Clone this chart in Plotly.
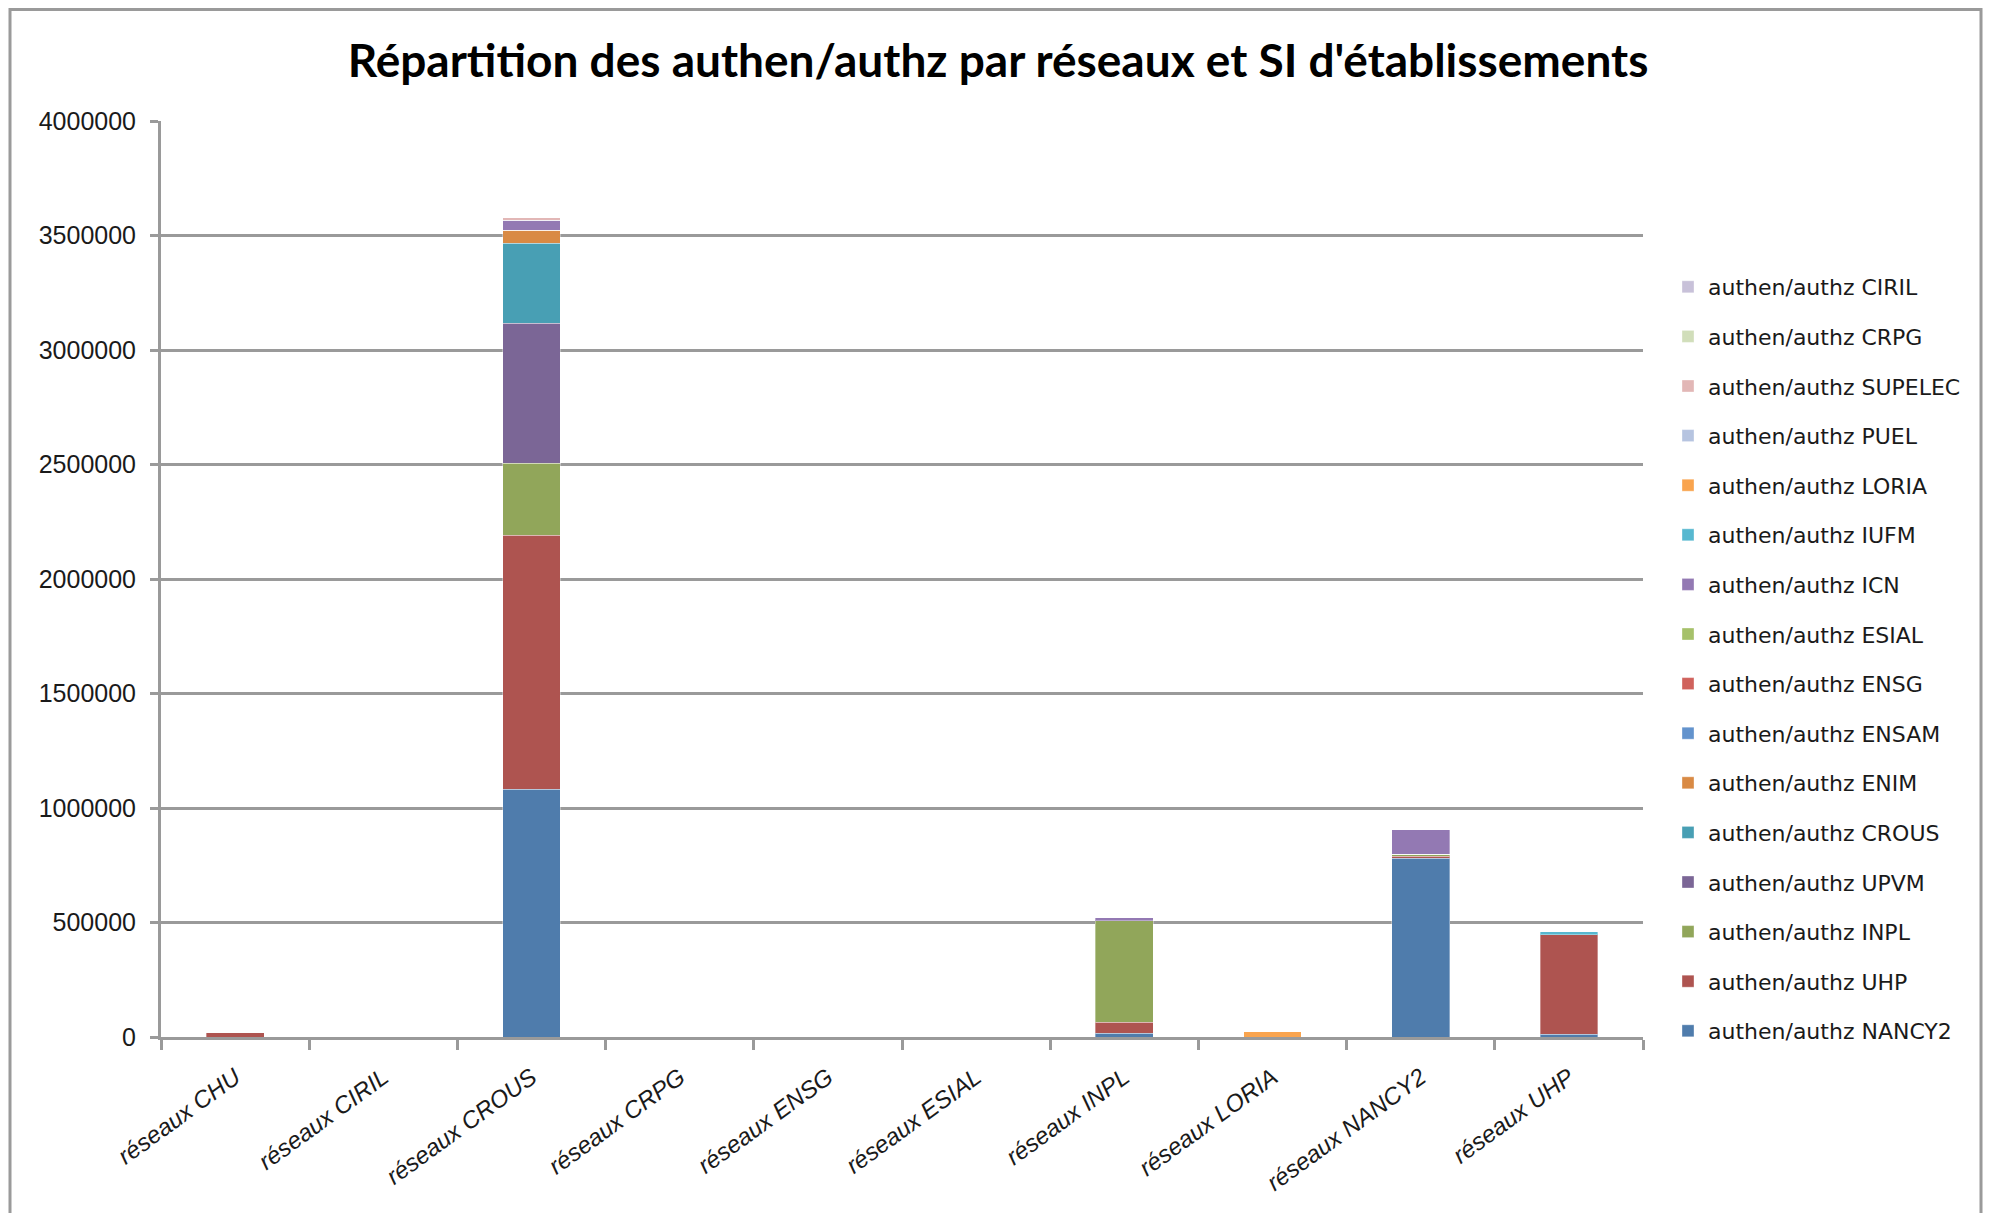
import plotly.graph_objects as go

# categories (x axis)
reseaux = ['réseaux CHU', 'réseaux CIRIL', 'réseaux CROUS', 'réseaux CRPG', 'réseaux ENSG',
           'réseaux ESIAL', 'réseaux INPL', 'réseaux LORIA', 'réseaux NANCY2', 'réseaux UHP']

# series values, one list per SI (stack order bottom -> top)
nancy2 = [0, 0, 1082000, 0, 0, 0, 17000, 0, 781000, 11000]
uhp = [20000, 0, 1108000, 0, 0, 0, 48000, 0, 8000, 436000]
inpl = [0, 0, 315000, 0, 0, 0, 443000, 0, 8000, 0]
upvm = [0, 0, 612000, 0, 0, 0, 0, 0, 0, 0]
crous = [0, 0, 350000, 0, 0, 0, 0, 0, 0, 0]
enim = [0, 0, 57000, 0, 0, 0, 0, 0, 0, 0]
ensam = [0, 0, 0, 0, 0, 0, 0, 0, 0, 0]
ensg = [0, 0, 0, 0, 0, 0, 0, 0, 0, 0]
esial = [0, 0, 0, 0, 0, 0, 0, 0, 0, 0]
icn = [0, 0, 42000, 0, 0, 0, 13000, 0, 109000, 0]
iufm = [0, 0, 0, 0, 0, 0, 0, 0, 0, 12000]
loria = [0, 0, 0, 0, 0, 0, 0, 22000, 0, 0]
puel = [0, 0, 0, 0, 0, 0, 0, 0, 0, 0]
supelec = [0, 0, 12000, 0, 0, 0, 0, 0, 0, 0]
crpg = [0, 0, 0, 0, 0, 0, 0, 0, 0, 0]
ciril = [0, 0, 0, 0, 0, 0, 0, 0, 0, 0]

y_ticks = [0, 500000, 1000000, 1500000, 2000000, 2500000, 3000000, 3500000, 4000000]

series = [
    ('authen/authz NANCY2', nancy2, '#4F7CAC'),
    ('authen/authz UHP', uhp, '#AE5450'),
    ('authen/authz INPL', inpl, '#91A65A'),
    ('authen/authz UPVM', upvm, '#7B6696'),
    ('authen/authz CROUS', crous, '#489FB4'),
    ('authen/authz ENIM', enim, '#D98A44'),
    ('authen/authz ENSAM', ensam, '#6393CD'),
    ('authen/authz ENSG', ensg, '#D0625C'),
    ('authen/authz ESIAL', esial, '#A6C16A'),
    ('authen/authz ICN', icn, '#9379B3'),
    ('authen/authz IUFM', iufm, '#57B8D0'),
    ('authen/authz LORIA', loria, '#F9A44E'),
    ('authen/authz PUEL', puel, '#B6C4E0'),
    ('authen/authz SUPELEC', supelec, '#E2B7B6'),
    ('authen/authz CRPG', crpg, '#D1DEBA'),
    ('authen/authz CIRIL', ciril, '#C8C1D9'),
]

fig = go.Figure()
for i, (name, vals, col) in enumerate(series):
    fig.add_trace(go.Bar(
        x=reseaux, y=vals, name=name, legendgroup=name, legendrank=100 - i,
        marker=dict(color=col, line=dict(color='rgba(255,255,255,0.35)', width=1)),
    ))

# figure size (page has an 8px body margin, keep it from scrolling) and chart area, in pixels
W, H = 1977, 1205
L, R, T, B = 153, 342, 113, 176
pw, ph = W - L - R, H - T - B

def px_x(x):
    return (x - L) / pw

def px_y(y):
    return (H - B - y) / ph

# open-bottom frame around the chart
xl, xr, yt, yb = px_x(2), px_x(1973), px_y(1.5), px_y(1300)
frame = f'M {xl} {yb} L {xl} {yt} L {xr} {yt} L {xr} {yb}'

fig.update_layout(
    width=W, height=H,
    barmode='stack', bargap=0.61,
    plot_bgcolor='white', paper_bgcolor='white',
    margin=dict(l=L, r=R, t=T, b=B),
    title=dict(text="Répartition des authen/authz par réseaux et SI d'établissements",
               x=px_x(990), xanchor='center', y=1 - 53 / H, yanchor='middle',
               xref='paper',
               font=dict(family='Lato', size=46, color='#000000', weight='bold')),
    legend=dict(x=px_x(1660), y=px_y(258), xanchor='left', yanchor='top',
                traceorder='grouped', tracegroupgap=18,
                font=dict(family='DejaVu Sans', size=22, color='#1a1a1a')),
    xaxis=dict(showline=True, linecolor='#9a9a9a', linewidth=3,
               ticks='outside', tickson='boundaries', ticklen=10, tickwidth=3, tickcolor='#9a9a9a',
               tickangle=-36, ticklabelstandoff=14,
               tickfont=dict(family='Liberation Sans', size=24, color='#1a1a1a', style='italic'),
               showgrid=False),
    yaxis=dict(range=[0, 4000000], tickvals=y_ticks, ticktext=[str(v) for v in y_ticks],
               showline=True, linecolor='#9a9a9a', linewidth=3,
               ticks='outside', ticklen=8, tickwidth=3, tickcolor='#9a9a9a', ticklabelstandoff=9,
               showgrid=True, gridcolor='#9a9a9a', gridwidth=3, zeroline=False,
               tickfont=dict(family='Liberation Sans', size=25, color='#1a1a1a')),
    shapes=[dict(type='path', xref='paper', yref='paper', path=frame,
                 line=dict(color='#9a9a9a', width=3), layer='below')],
)

fig.write_html('out.html')
